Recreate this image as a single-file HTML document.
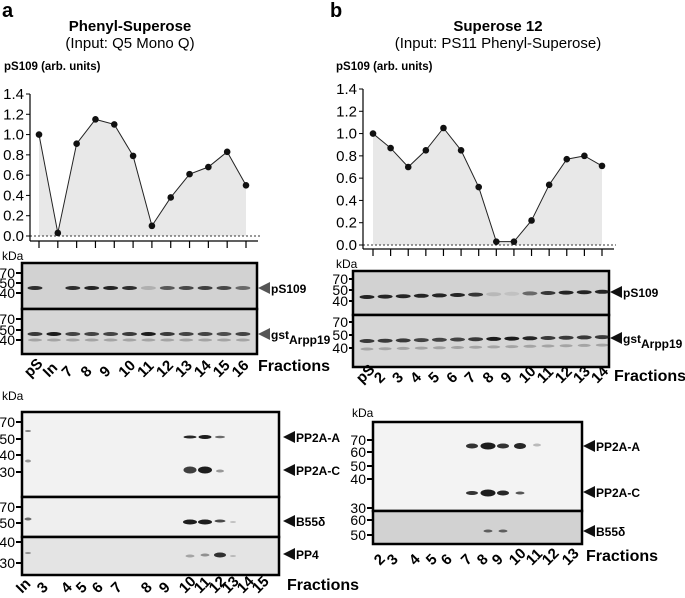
<!DOCTYPE html>
<html><head><meta charset="utf-8"><style>
body{margin:0;background:#fff}
svg{display:block;font-family:"Liberation Sans",Arial,sans-serif}
</style></head><body>
<svg id="fig" width="685" height="598" viewBox="0 0 685 598">
<text x="2" y="17" font-size="20" font-weight="bold">a</text>
<text x="330" y="17" font-size="20" font-weight="bold">b</text>
<text x="130" y="31" font-size="15" font-weight="bold" text-anchor="middle">Phenyl-Superose</text>
<text x="130" y="48" font-size="15" text-anchor="middle">(Input: Q5 Mono Q)</text>
<text x="498" y="31" font-size="15" font-weight="bold" text-anchor="middle">Superose 12</text>
<text x="498" y="48" font-size="15" text-anchor="middle">(Input: PS11 Phenyl-Superose)</text>
<text x="4" y="70" font-size="11.5" font-weight="bold">pS109 (arb. units)</text>
<text x="336" y="70" font-size="11.5" font-weight="bold">pS109 (arb. units)</text>
<g id="ga"></g><g id="gb"></g><g id="blots"></g>
</svg>
<script>
const NS="http://www.w3.org/2000/svg";
const yTicks=[0,0.2,0.4,0.6,0.8,1.0,1.2,1.4];
const yTickLabels=["0.0","0.2","0.4","0.6","0.8","1.0","1.2","1.4"];
const aFractions=["pS","In","7","8","9","10","11","12","13","14","15","16"];
const aValues=[1.0,0.03,0.91,1.15,1.1,0.79,0.1,0.38,0.61,0.68,0.83,0.5];
const bFractions=["pS","2","3","4","5","6","7","8","9","10","11","12","13","14"];
const bValues=[1.0,0.87,0.7,0.85,1.05,0.85,0.52,0.03,0.03,0.22,0.54,0.77,0.8,0.71];
function mk(tag,attrs,parent){const e=document.createElementNS(NS,tag);for(const k in attrs)e.setAttribute(k,attrs[k]);parent.appendChild(e);return e;}
function chart(g,vals,cfg){
  const y=v=>cfg.y0-(v/1.4)*(cfg.y0-cfg.y14);
  const x=i=>cfg.x0+i*(cfg.x1-cfg.x0)/(vals.length-1);
  let d=`M${x(0)},${y(0)}`;vals.forEach((v,i)=>d+=` L${x(i)},${y(v)}`);d+=` L${x(vals.length-1)},${y(0)} Z`;
  const area=mk('path',{d:d,fill:'#e8e8e8'},g);
  
  
  const zl=mk('line',{x1:cfg.ax,x2:cfg.x1+14,y1:y(0),y2:y(0),stroke:'#333','stroke-dasharray':'2,2','stroke-width':1},g);
  
  
  const ya=mk('line',{x1:cfg.ax,x2:cfg.ax,y1:cfg.y14,y2:cfg.base,stroke:'#000','stroke-width':1.2},g);
  
  
  const xa=mk('line',{x1:cfg.ax,x2:cfg.x1+12,y1:cfg.base,y2:cfg.base,stroke:'#000','stroke-width':1.2},g);
  
  
  yTicks.forEach((t,i)=>{
    const l=mk('line',{x1:cfg.ax-4,x2:cfg.ax,y1:y(t),y2:y(t),stroke:'#000'},g);
    
    
    const tx=mk('text',{x:cfg.ax-6,y:y(t)+5,'font-size':15,'text-anchor':'end'},g);
    tx.textContent=yTickLabels[i];
    
    
  });
  vals.forEach((v,i)=>{
    const l=mk('line',{x1:x(i),x2:x(i),y1:cfg.base,y2:cfg.base+7,stroke:'#000','stroke-width':1.2},g);
    
    
  });
  const pts=vals.map((v,i)=>x(i)+','+y(v)).join(' ');
  const pl=mk('polyline',{points:pts,fill:'none',stroke:'#222','stroke-width':1},g);
  
  
  vals.forEach((v,i)=>{
    const c=mk('circle',{cx:x(i),cy:y(v),r:3.3,fill:'#111'},g);
    
    
  });
  const kd=mk('text',{x:cfg.kx,y:cfg.base+19,'font-size':12},g);
  kd.textContent='kDa';
  
  
}
chart(document.getElementById('ga'),aValues,{ax:30,x0:39,x1:246,y0:236,y14:94,base:241,kx:2});
chart(document.getElementById('gb'),bValues,{ax:363,x0:373,x1:602,y0:245,y14:89,base:249,kx:336});

const B=document.getElementById('blots');
function box(x,y,w,h,fill,name){const r=mk('rect',{x:x,y:y,width:w,height:h,fill:fill,stroke:'#000','stroke-width':2.5},B);}
function txt(x,y,s,t,opts,name){const e=mk('text',Object.assign({x:x,y:y,'font-size':s},opts||{}),B);e.textContent=t;return e;}
function band(cx,cy,w,h,op){const e=mk('ellipse',{cx:cx,cy:cy,rx:w/2,ry:h/2,fill:'#111','fill-opacity':op},B);}
function arrow(x,y,t,name,sub,col){mk('polygon',{points:`${x},${y} ${x+12},${y-6} ${x+12},${y+6}`,fill:col||'#111'},B);const e=txt(x+13,y+5,12,t,{'font-weight':'bold'},name);if(sub){const ts=document.createElementNS(NS,'tspan');ts.setAttribute('dy','5');ts.textContent=sub;e.appendChild(ts);}}
function mw(x,y,t){txt(x,y+5,14,t,{'text-anchor':'end'},'mw-marker');mk('line',{x1:x+1,x2:x+6,y1:y,y2:y,stroke:'#000','stroke-width':2},B);}
function labels(xs,y,arr){arr.forEach((t,i)=>{txt(xs[i]-5,y,15,t,{'font-weight':'bold',transform:`rotate(-45 ${xs[i]-5} ${y})`},'lane-label');});}

// panel a top blots
box(22,263,235,46,'#d2d2d2','blot-a-ps109');
box(22,309,235,45,'#d6d6d6','blot-a-gst');
const aLane=i=>35+i*18.9;
const aPs=[0.95,0,0.95,1,1,0.95,0.2,0.7,0.8,0.85,0.8,0.6];
aPs.forEach((v,i)=>{if(v>0)band(aLane(i),288,15,4,v*0.9);});
const aGst=[0.8,0.95,0.75,0.75,0.75,0.8,0.95,0.8,0.75,0.75,0.7,0.75];
aGst.forEach((v,i)=>{band(aLane(i),334,15,4,v);band(aLane(i),340,14,3,0.25);});
mw(15,273,'70');mw(15,283,'50');mw(15,293,'40');
mw(15,319,'70');mw(15,330,'50');mw(15,340,'40');
arrow(258,288,'pS109','label-ps109-a',null,'#555');
arrow(258,334,'gst','label-gst-a','Arpp19','#555');
labels(aFractions.map((f,i)=>aLane(i)),378,aFractions);
txt(258,371,16,'Fractions',{'font-weight':'bold'},'fractions-label-a');

// panel b top blots
box(353,271,256,44,'#d2d2d2','blot-b-ps109');
box(353,315,256,52,'#d6d6d6','blot-b-gst');
const bLane=i=>367+i*18.1;
const bPs=[1,1,1,1,1,1,0.9,0.15,0.1,0.6,0.9,1,1,1];
bPs.forEach((v,i)=>band(bLane(i),297-i*0.4,15,4,v*0.9));
const bGst=[0.8,0.8,0.8,0.75,0.75,0.75,0.8,0.95,0.95,0.9,0.8,0.8,0.8,0.8];
bGst.forEach((v,i)=>{band(bLane(i),341-i*0.3,15,4,v);band(bLane(i),349-i*0.3,13,3,0.25);});
mw(348,279,'70');mw(348,290,'50');mw(348,301,'40');
mw(348,322,'70');mw(348,335,'50');mw(348,348,'40');
arrow(610,292,'pS109','label-ps109-b');
arrow(610,338,'gst','label-gst-b','Arpp19');
labels(bFractions.map((f,i)=>bLane(i)),384,bFractions);
txt(614,381,16,'Fractions',{'font-weight':'bold'},'fractions-label-b');

// panel a lower blots
txt(2,400,12,'kDa',{},'kda-label');
box(22,412,257,85,'#f2f2f2','blot-a-pp2a');
box(22,497,257,40,'#efefef','blot-a-b55');
box(22,537,257,38,'#e4e4e4','blot-a-pp4');
const lFr=["In","3","4","5","6","7","8","9","10","11","12","13","14","15"];
const lX=[27,48,72,87,103,122,152,170,190,205,220,233,248,263];
band(190,437,13,3,0.9);band(205,437,13,4,0.95);band(220,437,10,2.5,0.6);
band(190,470,13,7,0.8);band(205,470,14,7,0.95);band(220,471,8,3,0.4);
band(190,522,14,5,0.95);band(205,522,14,5,0.95);band(220,521,11,3,0.75);band(233,522,6,2,0.2);
band(190,556,9,3,0.3);band(205,555,9,3,0.4);band(220,555,12,5,0.85);band(233,556,6,2,0.2);
band(28,431,6,2,0.5);band(28,461,6,3,0.4);band(28,519,7,3,0.6);band(28,553,6,2,0.4);
mw(15,422,'70');mw(15,439,'50');mw(15,455,'40');mw(15,472,'30');
mw(15,507,'70');mw(15,523,'50');mw(15,542,'40');mw(15,563,'30');
arrow(283,437,'PP2A-A','label-pp2a-a-a');
arrow(283,470,'PP2A-C','label-pp2a-c-a');
arrow(283,521,'B55δ','label-b55-a');
arrow(283,554,'PP4','label-pp4-a');
labels(lX,594,lFr);
txt(287,590,16,'Fractions',{'font-weight':'bold'},'fractions-label-a2');

// panel b lower blots
txt(352,417,12,'kDa',{},'kda-label');
box(373,422,209,89,'#f3f3f3','blot-b-pp2a');
box(373,511,209,33,'#d2d2d2','blot-b-b55');
const mFr=["2","3","4","5","6","7","8","9","10","11","12","13"];
const mX=[385,398,420,437,452,472,488,503,520,537,553,573];
band(472,446,12,5,0.85);band(488,446,15,7,0.95);band(503,446,12,5,0.85);band(520,446,12,6,0.9);band(537,445,8,3,0.25);
band(472,493,12,4,0.85);band(488,493,15,7,0.95);band(503,493,12,5,0.9);band(520,493,9,3,0.7);
band(488,531,9,3,0.6);band(503,531,9,3,0.6);
mw(366,440,'70');mw(366,452,'60');mw(366,466,'50');mw(366,479,'40');mw(366,508,'30');mw(366,520,'60');mw(366,535,'50');
arrow(583,446,'PP2A-A','label-pp2a-a-b');
arrow(583,492,'PP2A-C','label-pp2a-c-b');
arrow(583,531,'B55δ','label-b55-b');
labels(mX,566,mFr);
txt(586,561,16,'Fractions',{'font-weight':'bold'},'fractions-label-b2');
</script>
</body></html>
